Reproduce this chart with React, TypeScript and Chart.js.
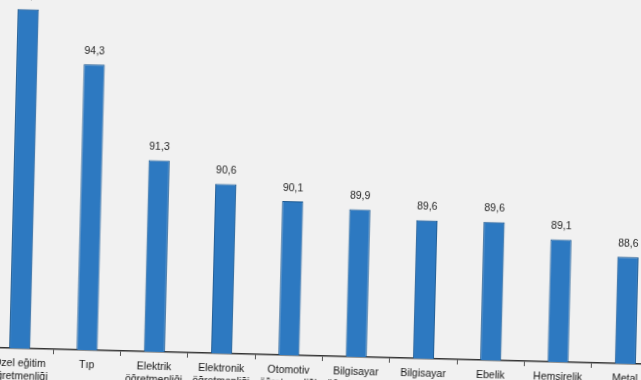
import React, { useEffect, useRef } from "react";
import { Chart, registerables } from "chart.js";

Chart.register(...registerables);

const categories: string[][] = [
  ["Özel eğitim", "öğretmenliği"],
  ["Tıp"],
  ["Elektrik", "öğretmenliği"],
  ["Elektronik", "öğretmenliği"],
  ["Otomotiv", "öğretmenliği"],
  ["Bilgisayar", "öğretmenliği"],
  ["Bilgisayar", "mühendisliği"],
  ["Ebelik"],
  ["Hemşirelik"],
  ["Metal", "öğretmenliği"],
];
const values: number[] = [96.0, 94.3, 91.3, 90.6, 90.1, 89.9, 89.6, 89.6, 89.1, 88.6];

const Y_MIN = 85.2;
const Y_MAX = 97.3;

const valueLabels = {
  id: "valueLabels",
  afterDatasetsDraw(chart: any) {
    const ctx = chart.ctx;
    const meta = chart.getDatasetMeta(0);
    ctx.save();
    ctx.font = "10.5px 'Liberation Sans', Arial, sans-serif";
    ctx.fillStyle = "#262626";
    ctx.textAlign = "center";
    ctx.textBaseline = "bottom";
    meta.data.forEach((bar: any, i: number) => {
      const txt = values[i].toFixed(1).replace(".", ",");
      ctx.fillText(txt, bar.x, bar.y - 8);
    });
    ctx.restore();
  },
};

export default function App() {
  const ref = useRef<HTMLCanvasElement | null>(null);
  useEffect(() => {
    if (!ref.current) return;
    const chart = new Chart(ref.current, {
      type: "bar",
      data: {
        labels: categories,
        datasets: [
          {
            data: values,
            backgroundColor: "#2d79c1",
            borderColor: "#1b5890",
            borderWidth: 1,
            barPercentage: 0.63,
            categoryPercentage: 0.5,
          },
        ],
      },
      options: {
        animation: false,
        responsive: false,
        maintainAspectRatio: false,
        layout: { padding: 0 },
        plugins: { legend: { display: false }, tooltip: { enabled: false } },
        scales: {
          x: {
            offset: true,
            grid: {
              offset: true,
              drawOnChartArea: false,
              drawTicks: true,
              tickLength: 5,
              color: "#555555",
            },
            border: { display: true, color: "#333333", width: 1.5 },
            ticks: {
              color: "#151515",
              font: { family: "'Liberation Sans', Arial, sans-serif", size: 10.5 },
              padding: 4,
              maxRotation: 0,
              autoSkip: false,
            },
            afterFit: (s: any) => {
              s.height = 34;
            },
          },
          y: {
            display: false,
            min: Y_MIN,
            max: Y_MAX,
          },
        },
      },
      plugins: [valueLabels],
    });
    return () => chart.destroy();
  }, []);

  const T = -24;
  const W = 673;
  const H = 414;
  return (
    <div
      style={{
        position: "fixed",
        left: 0,
        top: 0,
        width: 641,
        height: 380,
        background: "#f1f1f1",
        overflow: "hidden",
      }}
    >
      <div
        style={{
          position: "absolute",
          left: -14.5,
          top: T,
          width: W,
          height: H,
          transform: "rotate(1.45deg)",
          transformOrigin: `334.5px ${356 - T}px`,
        }}
      >
        <canvas ref={ref} width={W} height={H} style={{ display: "block" }} />
      </div>
    </div>
  );
}
